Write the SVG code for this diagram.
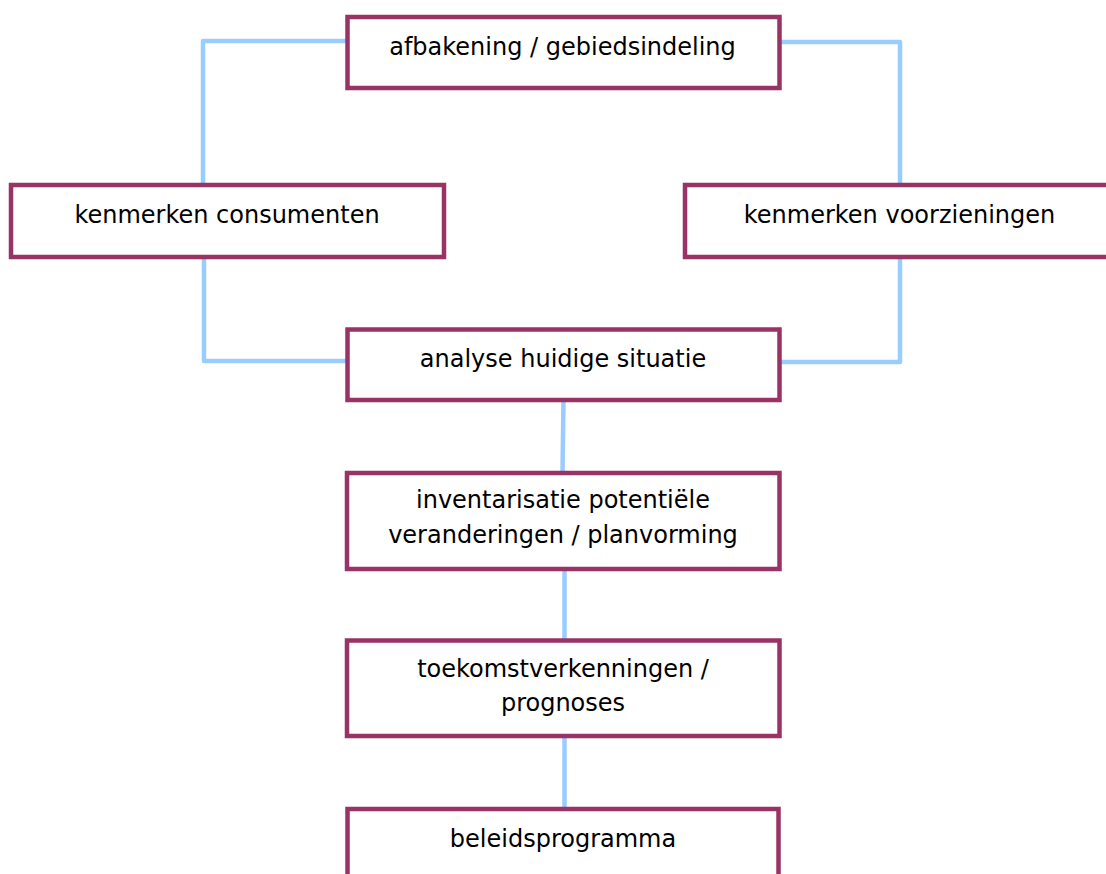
<svg xmlns="http://www.w3.org/2000/svg" width="1106" height="874" viewBox="0 0 1106 874">
<style>
.box{fill:#ffffff;stroke:#993366;stroke-width:4.5}
.lbl{font-family:"DejaVu Sans",sans-serif;font-size:24px;fill:#000000;text-anchor:middle}
.con{fill:none;stroke:#99CCFF;stroke-width:4.5;stroke-linejoin:round}
</style>
<rect width="1106" height="874" fill="#ffffff"/>
<g id="connectors">
<polyline class="con" points="347,41 203,41 203,185"/>
<polyline class="con" points="780,42 900,42 900,185"/>
<polyline class="con" points="204,257 204,361 347,361"/>
<polyline class="con" points="900,257 900,362 780,362"/>
<line class="con" x1="563.5" y1="400" x2="562.5" y2="473"/>
<line class="con" x1="564.5" y1="569" x2="564.5" y2="640"/>
<line class="con" x1="564.5" y1="736" x2="564.5" y2="809"/>
</g>
<g id="afbakening">
<rect class="box" x="347.5" y="17" width="432" height="71"/>
<text class="lbl" x="562.5" y="55">afbakening / gebiedsindeling</text>
</g>
<g id="consumenten">
<rect class="box" x="11" y="185" width="433" height="72"/>
<text class="lbl" x="227" y="223">kenmerken consumenten</text>
</g>
<g id="voorzieningen">
<rect class="box" x="685" y="185" width="433" height="72"/>
<text class="lbl" x="899.5" y="223">kenmerken voorzieningen</text>
</g>
<g id="analyse">
<rect class="box" x="347.5" y="329.5" width="432" height="70.5"/>
<text class="lbl" x="563" y="367">analyse huidige situatie</text>
</g>
<g id="inventarisatie">
<rect class="box" x="347" y="473" width="432.5" height="96"/>
<text class="lbl" x="563" y="508">inventarisatie potentiële</text>
<text class="lbl" x="563" y="543">veranderingen / planvorming</text>
</g>
<g id="toekomst">
<rect class="box" x="347" y="640.5" width="432.5" height="95.5"/>
<text class="lbl" x="563" y="677">toekomstverkenningen /</text>
<text class="lbl" x="563" y="711">prognoses</text>
</g>
<g id="beleid">
<rect class="box" x="347.5" y="809" width="431" height="90"/>
<text class="lbl" x="563" y="847">beleidsprogramma</text>
</g>
</svg>
